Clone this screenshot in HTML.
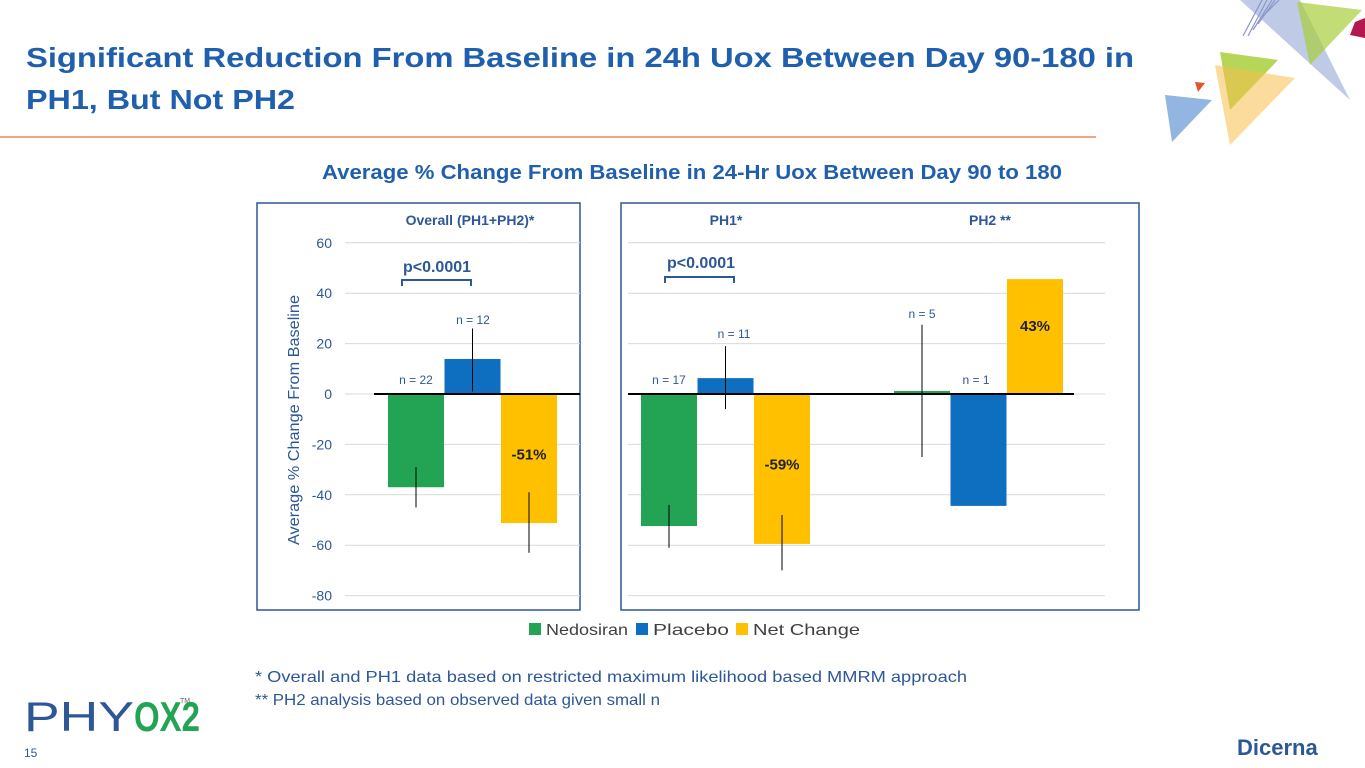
<!DOCTYPE html>
<html><head><meta charset="utf-8"><style>
html,body{margin:0;padding:0;background:#fff;}
svg{display:block;font-family:"Liberation Sans",sans-serif;}
</style></head><body>
<svg id="s" width="1365" height="768" viewBox="0 0 1365 768">
<g>
 <polygon points="1240,0 1300,0 1350,100" fill="#7f95cf" opacity="0.5"/>
 <polygon points="1297,2 1362,10 1310,65" fill="#a8cf3a" opacity="0.7"/>
 <polygon points="1355,22 1365,18 1365,38 1350,35" fill="#b5174f"/>
 <polygon points="1220,52 1278,60 1230,110" fill="#a8cf3a" opacity="0.85"/>
 <polygon points="1215,65 1295,78 1230,145" fill="#f8c04a" opacity="0.55"/>
 <polygon points="1165,95 1212,100 1172,142" fill="#7fa9dc" opacity="0.85"/>
 <polygon points="1195,82 1205,83 1198,92" fill="#e0552a"/>
 <g stroke="#8a96c8" stroke-width="1.2">
  <line x1="1243" y1="36" x2="1262" y2="0"/><line x1="1248" y1="36" x2="1267" y2="0"/><line x1="1253" y1="30" x2="1272" y2="0"/><line x1="1258" y1="24" x2="1275" y2="0"/><line x1="1263" y1="16" x2="1279" y2="0"/>
 </g>
</g>
<text x="26" y="67" font-size="28" font-weight="bold" fill="#1f5fae" textLength="1108" lengthAdjust="spacingAndGlyphs">Significant Reduction From Baseline in 24h Uox Between Day 90-180 in</text>
<text x="26" y="109" font-size="28" font-weight="bold" fill="#1f5fae" textLength="269" lengthAdjust="spacingAndGlyphs">PH1, But Not PH2</text>
<line x1="0" y1="137" x2="1096" y2="137" stroke="#ec8a5a" stroke-width="1.5"/>
<text x="692" y="179" font-size="20" font-weight="bold" fill="#1f5fae" text-anchor="middle" textLength="740" lengthAdjust="spacingAndGlyphs">Average % Change From Baseline in 24-Hr Uox Between Day 90 to 180</text>
<rect x="257" y="203" width="323" height="407" fill="none" stroke="#2e5797" stroke-width="1.5"/>
<rect x="621" y="203" width="518" height="407" fill="none" stroke="#2e5797" stroke-width="1.5"/>
<g id="grid"></g><g id="bars"></g><g id="labels"></g>
<text x="470" y="225" font-size="14" font-weight="bold" fill="#2e5797" text-anchor="middle">Overall (PH1+PH2)*</text>
<text x="726" y="225" font-size="14" font-weight="bold" fill="#2e5797" text-anchor="middle">PH1*</text>
<text x="990" y="225" font-size="14" font-weight="bold" fill="#2e5797" text-anchor="middle">PH2 **</text>
<text x="437" y="272" font-size="16" font-weight="bold" fill="#2e5797" text-anchor="middle">p&lt;0.0001</text>
<path d="M402,286 V280 H471 V286" fill="none" stroke="#2e5797" stroke-width="2"/>
<text x="701" y="268" font-size="16" font-weight="bold" fill="#2e5797" text-anchor="middle">p&lt;0.0001</text>
<path d="M665,283 V277 H734 V283" fill="none" stroke="#2e5797" stroke-width="2"/>
<text transform="translate(299,420) rotate(-90)" font-size="16" fill="#2e5797" text-anchor="middle" textLength="250" lengthAdjust="spacingAndGlyphs">Average % Change From Baseline</text>
<g font-size="16" fill="#404040">
 <rect x="529" y="623" width="12" height="12" fill="#23a455"/><text x="546" y="635" textLength="82" lengthAdjust="spacingAndGlyphs">Nedosiran</text>
 <rect x="636" y="623" width="12" height="12" fill="#0e6fc1"/><text x="653" y="635" textLength="76" lengthAdjust="spacingAndGlyphs">Placebo</text>
 <rect x="736" y="623" width="12" height="12" fill="#ffc000"/><text x="753" y="635" textLength="107" lengthAdjust="spacingAndGlyphs">Net Change</text>
</g>
<text x="255" y="682" font-size="16" fill="#2e5797" textLength="712" lengthAdjust="spacingAndGlyphs">* Overall and PH1 data based on restricted maximum likelihood based MMRM approach</text>
<text x="255" y="705" font-size="16" fill="#2e5797" textLength="405" lengthAdjust="spacingAndGlyphs">** PH2 analysis based on observed data given small n</text>
<g>
 <text x="24" y="731" font-size="42" fill="#2e5797" font-weight="normal" textLength="110" lengthAdjust="spacingAndGlyphs">PHY</text>
 <text x="134" y="731" font-size="42" font-weight="bold" fill="#23a455" textLength="66" lengthAdjust="spacingAndGlyphs">OX2</text>
 <text x="180" y="703" font-size="7" fill="#666">TM</text>
</g>
<text x="24" y="757" font-size="12" fill="#2e5797">15</text>
<text x="1237" y="755" font-size="22" font-weight="bold" fill="#2e5797">Dicerna</text>
</svg>
<script>
const ticks=[60,40,20,0,-20,-40,-60,-80];
const groups=["Overall","PH1","PH2"];
const nedosiran=[-37,-52.4,1.2];
const placebo=[13.9,6.3,-44.4];
const netChange=[-51.2,-59.5,45.6];
const nedErr=[[-29,-45],[-44,-61],[27.5,-25]];
const plaErr=[[26,1],[19,-6],null];
const netErr=[[-39,-63],[-48,-70],null];
const nLabels=[["n = 22","n = 12"],["n = 17","n = 11"],["n = 5","n = 1"]];
const netLabels=["-51%","-59%","43%"];
const y=v=>394-v*2.52;
const groupX=[388,641,894];
const bw=56;
const NS="http://www.w3.org/2000/svg";
function mk(tag,attrs,parent,txt){const e=document.createElementNS(NS,tag);for(const k in attrs)e.setAttribute(k,attrs[k]);if(txt!==undefined)e.textContent=txt;parent.appendChild(e);return e;}
const G=document.getElementById('grid'),B=document.getElementById('bars'),L=document.getElementById('labels');
ticks.forEach(t=>{
 const l1=mk('line',{x1:345,x2:580,y1:y(t),y2:y(t),stroke:'#d9d9d9','stroke-width':1},G);
 
 
 const l2=mk('line',{x1:628,x2:1105,y1:y(t),y2:y(t),stroke:'#d9d9d9','stroke-width':1},G);
 
 
 const tx=mk('text',{x:332,y:y(t)+5,'font-size':14,fill:'#2e5797','text-anchor':'end'},G,String(t));
 
 
});
const series=[[nedosiran,'#23a455',nedErr,'nedosiran'],[placebo,'#0e6fc1',plaErr,'placebo'],[netChange,'#ffc000',netErr,'net-change']];
groups.forEach((g,gi)=>{
 series.forEach((s,si)=>{
  const v=s[0][gi];const x=groupX[gi]+si*(bw+0.5);
  const r=mk('rect',{x:x,width:bw,y:Math.min(y(0),y(v)),height:Math.abs(y(v)-y(0)),fill:s[1]},B);
  
  
  const e=s[2][gi];
  if(e){const el=mk('line',{x1:x+bw/2,x2:x+bw/2,y1:y(e[0]),y2:y(e[1]),stroke:'#000','stroke-width':1},L);
   
   }
 });
});
[[374,580],[628,1074]].forEach(a=>{const z=mk('line',{x1:a[0],x2:a[1],y1:y(0),y2:y(0),stroke:'#000','stroke-width':2},L);
 
 });
const nPos=[[[416,y(0)-10],[473,y(0)-70]],[[669,y(0)-10],[734,y(0)-56]],[[922,y(0)-76],[976,y(0)-10]]];
nLabels.forEach((p,gi)=>p.forEach((t,j)=>{const tx=mk('text',{x:nPos[gi][j][0],y:nPos[gi][j][1],'font-size':12,fill:'#2e5797','text-anchor':'middle'},L,t);
 
 }));
const netPos=[[529,y(-26)],[782,y(-30)],[1035,y(25)]];
netLabels.forEach((t,i)=>{const tx=mk('text',{x:netPos[i][0],y:netPos[i][1],'font-size':15,'font-weight':'bold',fill:'#222','text-anchor':'middle'},L,t);
 
 });
</script>
</body></html>
